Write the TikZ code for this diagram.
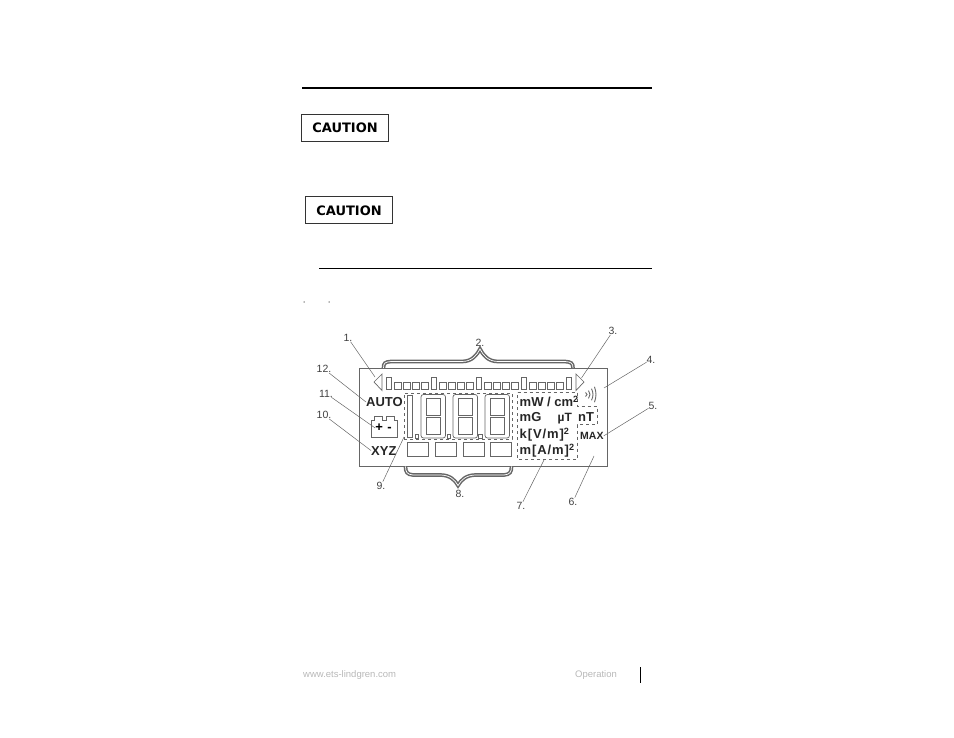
\documentclass[tikz,border=0pt]{standalone}
\usepackage{fontspec}
\setmainfont{Liberation Sans}
\newfontfamily\cautionfont{DejaVu Sans}
\newfontfamily\lcdwide[LetterSpace=7]{Liberation Sans}
\usetikzlibrary{positioning,shapes}
\definecolor{lcdgray}{gray}{0.4}
\definecolor{footgray}{gray}{0.72}
\tikzset{
  callout/.style={font=\fontsize{10.5}{12}\selectfont, text=black!75},
  leader/.style={draw=lcdgray, line width=.5pt},
  lcdtext/.style={anchor=base west, font=\fontsize{13}{15}\selectfont\bfseries, text=black!85},
  cautionbox/.style={draw=black!80, line width=1pt, minimum width=87pt, minimum height=27pt,
    font=\fontsize{13}{15}\selectfont\cautionfont\bfseries},
  segment/.style={draw=lcdgray, line width=.7pt},
  brace/.style={draw=lcdgray, line width=1.5pt, double=white, double distance=.7pt}
}
\begin{document}
\begin{tikzpicture}[x=1pt, y=-1pt,
    every node/.style={inner sep=0pt, align=center}]
  \useasboundingbox (0,0) rectangle (954,738);
  % rules on the page
  \node (toprule) [minimum width=350pt, minimum height=2pt, fill=black] at (477,88.5) {};
  \node (subrule) [minimum width=333pt, minimum height=1pt, fill=black] at (485.5,269) {};
  \node (cautiona) [cautionbox] at (345,128) {CAUTION};
  \node (cautionb) [cautionbox] at (349,210.5) {CAUTION};
  \node (quotea) [font=\fontsize{5}{5}\selectfont] at (304.5,304) {"};
  \node (quoteb) [font=\fontsize{5}{5}\selectfont, right=23pt of quotea] {"};
  % display panel
  \draw [lcdgray, line width=.8pt] (359.5,368) rectangle (607.5,466.5);
  \foreach \x in {386,431,476,521,566} {
    \draw [segment] (\x,377) rectangle +(5.5,12);
  }
  \foreach \x in {394.5,403.5,412.5,421.5,439.5,448.5,457.5,466.5,484.5,493.5,502.5,511.5,529.5,538.5,547.5,556.5} {
    \draw [segment] (\x,382) rectangle +(7,7);
  }
  \node (arrowl) [coordinate] at (374,382) {};
  \node (arrowr) [coordinate] at (584,382) {};
  \draw [segment] (arrowl) -- (382,374) -- (382,390.5) -- cycle;
  \draw [segment] (arrowr) -- (576,374) -- (576,390.5) -- cycle;
  % digits
  \draw [segment] (407,395) rectangle (412.5,437);
  \foreach \x in {421,453,485} {
    \draw [segment, rounded corners=2.5pt] (\x,394.5) rectangle +(24.5,43.5);
    \draw [segment] (\x+5,398.5) rectangle +(14,17);
    \draw [segment] (\x+5,417.5) rectangle +(14,16.5);
  }
  \foreach \x in {415,447,478.5} {
    \draw [segment] (\x,434.5) rectangle +(3.5,3.5);
  }
  \foreach \x in {407,435,463,490} {
    \draw [segment] (\x,442.5) rectangle +(21.5,13.5);
  }
  % dashed groups
  \node (digitbox) [draw=lcdgray, dashed, line width=.7pt, minimum width=108pt, minimum height=46pt] at (458,416) {};
  \draw [lcdgray, dashed, line width=.8pt] (517.5,392) -- (577,392) -- (577,406) -- (597,406)
    -- (597,424.5) -- (577,424.5) -- (577,459.5) -- (517.5,459.5) -- cycle;
  % battery
  \draw [segment] (371,420) -- (374,420) -- (374,416) -- (382,416) -- (382,420) -- (386,420)
    -- (386,416) -- (394,416) -- (394,420) -- (397,420) -- (397,437) -- (371,437) -- cycle;
  \node (battery) [font=\fontsize{13}{15}\selectfont\bfseries] at (383.5,428) {+\,\,-};
  % speaker
  \foreach \i in {0,1,2,3} {
    \draw [lcdgray, line width=.9pt] (585.5+3*\i,394.5-2-\i*1.9) .. controls (587.5+3*\i,393) and (587.5+3*\i,396) .. (585.5+3*\i,394.5+2+\i*1.9);
  }
  % display texts
  \node (auto) [lcdtext] at (366,406.5) {AUTO};
  \node (xyz) [lcdtext] at (371,455) {XYZ};
  \node (mwcm) [lcdtext] at (519.5,406.5) {mW / cm\textsuperscript{2}};
  \node (mg) [lcdtext] at (519.5,421.5) {mG};
  \node (mut) [lcdtext, font=\fontsize{12}{14}\selectfont\bfseries] at (557.5,421.5) {µT};
  \node (nt) [lcdtext] at (578,421.5) {nT};
  \node (kvm) [lcdtext, font=\fontsize{13}{15}\selectfont\lcdwide\bfseries] at (519.5,438.5) {k[V/m]\textsuperscript{2}};
  \node (mam) [lcdtext, font=\fontsize{13}{15}\selectfont\lcdwide\bfseries] at (519.5,454.5) {m[A/m]\textsuperscript{2}};
  \node (max) [lcdtext, font=\fontsize{10.5}{12}\selectfont\bfseries] at (580,439.5) {MAX};
  % braces
  \node (bracetop) [coordinate] at (480,349) {};
  \node (bracebot) [coordinate] at (458,485.5) {};
  \draw [brace] (383.5,368) .. controls (383.5,363) and (385,362) .. (391,361.5)
    -- (462,361.5) .. controls (472,361.5) and (477,355) .. (bracetop)
    .. controls (483,355) and (488,361.5) .. (498,361.5)
    -- (565,361.5) .. controls (571,362) and (573,363) .. (573,368);
  \draw [brace] (405.5,466.5) .. controls (405.5,472) and (407,474.5) .. (413,475)
    -- (440,475) .. controls (450,475) and (455,480) .. (bracebot)
    .. controls (461,480) and (466,475) .. (476,475)
    -- (504,475) .. controls (510,474.5) and (511.5,472) .. (511.5,466.5);
  % callouts
  \node (c1) [callout] at (348,338) {1.};
  \node (c2) [callout] at (480,342.5) {2.};
  \node (c3) [callout] at (613,331) {3.};
  \node (c4) [callout] at (651,359.5) {4.};
  \node (c5) [callout] at (653,405.5) {5.};
  \node (c6) [callout] at (573,501.5) {6.};
  \node (c7) [callout] at (521,505.5) {7.};
  \node (c8) [callout] at (460,494) {8.};
  \node (c9) [callout] at (381,485.5) {9.};
  \node (c10) [callout] at (324,415) {10.};
  \node (c11) [callout] at (326,393.5) {11.};
  \node (c12) [callout] at (324,369) {12.};
  \coordinate (t3) at (581.5,378);
  \coordinate (t4) at (604,388);
  \coordinate (t6) at (594,456);
  \coordinate (t7) at (544,460);
  \coordinate (t9) at (404,437);
  \coordinate (t1) at (375,377);
  \path [leader] (c1) edge (t1)
    (c3) edge (t3)
    (c4) edge (t4)
    (c5) edge (max.east)
    (c6) edge (t6)
    (c7) edge (t7)
    (c9) edge (t9)
    (c10) edge (xyz.west)
    (c11) edge (battery.west)
    (c12) edge (auto.west);
  % footer
  \node (url) [anchor=west, font=\fontsize{9.5}{11}\selectfont, text=footgray] at (303,675) {www.ets-lindgren.com};
  \node (section) [anchor=west, font=\fontsize{9.5}{11}\selectfont, text=footgray] at (575,675) {Operation};
  \node (pagebar) [minimum width=1pt, minimum height=16pt, fill=black] at (640,675) {};
\end{tikzpicture}
\end{document}
